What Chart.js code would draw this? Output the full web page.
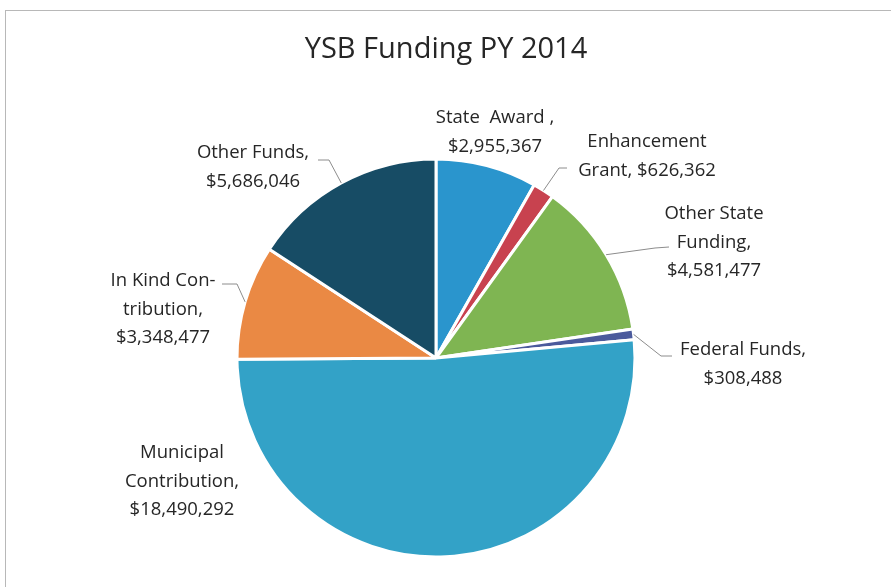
<!DOCTYPE html>
<html>
<head>
<meta charset="utf-8">
<title>YSB Funding PY 2014</title>
<script src="https://cdn.jsdelivr.net/npm/chart.js@4.4.1/dist/chart.umd.min.js"></script>
<style>
  html, body { margin: 0; padding: 0; background: #fff; }
  #wrap { position: relative; width: 891px; height: 587px; overflow: hidden; }
  #frame { position: absolute; left: 5px; top: 10px; right: -2px; bottom: -2px;
           border-left: 1px solid #b8b8b8; border-top: 1px solid #b8b8b8; }
  canvas { position: absolute; left: 0; top: 0; }
</style>
</head>
<body>
<div id="wrap">
  <div id="frame"></div>
  <canvas id="fundingChart" width="891" height="587"></canvas>
</div>
<script>
const categories = ["State Award", "Enhancement Grant", "Other State Funding", "Federal Funds",
                    "Municipal Contribution", "In Kind Contribution", "Other Funds"];
const amounts = [2955367, 626362, 4581477, 308488, 18490292, 3348477, 5686046];
const sliceColors = ["#2a95cd", "#c8424f", "#7fb552", "#4b5a9c", "#33a2c7", "#ea8944", "#174c65"];

// label text wrapped the way it is in the picture, the amount is added after
const labelLines = [
    ["State  Award ,"],
    ["Enhancement", "Grant,"],
    ["Other State", "Funding,"],
    ["Federal Funds,"],
    ["Municipal", "Contribution,"],
    ["In Kind Con-", "tribution,"],
    ["Other Funds,"]
];

// where each label sits, in px from the pie centre (for a 199px radius)
// leader = points the line goes through after leaving the slice edge
const labelLayout = [
    { x: 59,   y: -240, inline: false, leader: null },
    { x: 211,  y: -216, inline: true,  leader: [[123, -190], [131, -190]] },
    { x: 278,  y: -144, inline: false, leader: [[219, -110], [233, -111]] },
    { x: 307,  y: -8,   inline: false, leader: [[225, -2], [236, -2]] },
    { x: -254, y: 95,   inline: false, leader: null },
    { x: -273, y: -77,  inline: false, leader: [[-199, -74], [-214, -74]] },
    { x: -183, y: -205, inline: false, leader: [[-107, -198], [-118, -198]] }
];

const textColor = "#262626";
const fontFamily = "'Open Sans', 'Noto Sans', sans-serif";

const titlePlugin = {
    id: "pageTitle",
    afterDraw(chart){
        const ctx = chart.ctx;
        ctx.save();
        ctx.font = "29px " + fontFamily;
        ctx.fillStyle = textColor;
        ctx.textAlign = "center";
        ctx.textBaseline = "middle";
        ctx.fillText("YSB Funding PY 2014", 446, 50);
        ctx.restore();
    }
};

const pieLabels = {
    id: "pieLabels",
    afterDatasetsDraw(chart){
        const ctx = chart.ctx;
        const arcs = chart.getDatasetMeta(0).data;
        const values = chart.data.datasets[0].data;
        ctx.save();
        arcs.forEach((arc, i) => {
            const p = arc.getProps(["x", "y", "startAngle", "endAngle", "outerRadius"], true);
            const k = p.outerRadius / 199;
            const lay = labelLayout[i];

            if(lay.leader){
                const mid = (p.startAngle + p.endAngle) / 2;
                ctx.beginPath();
                ctx.moveTo(p.x + Math.cos(mid) * p.outerRadius, p.y + Math.sin(mid) * p.outerRadius);
                lay.leader.forEach(pt => ctx.lineTo(p.x + pt[0] * k, p.y + pt[1] * k));
                ctx.strokeStyle = "#8c8c8c";
                ctx.lineWidth = 1;
                ctx.stroke();
            }

            const value = "$" + values[i].toLocaleString("en-US");
            const lines = labelLines[i].slice();
            if(lay.inline) lines[lines.length - 1] += " " + value;
            else lines.push(value);

            ctx.font = "18.5px " + fontFamily;
            ctx.fillStyle = textColor;
            ctx.textAlign = "center";
            ctx.textBaseline = "middle";
            lines.forEach((t, j) => {
                ctx.fillText(t, p.x + lay.x * k, p.y + lay.y * k + j * 28.5);
            });
        });
        ctx.restore();
    }
};

const ctx = document.getElementById("fundingChart").getContext("2d");

const fundingChart = new Chart(ctx, {
    type: "pie",
    data: {
        labels: categories,
        datasets: [{
            data: amounts,
            backgroundColor: sliceColors,
            borderColor: "#ffffff",
            borderWidth: 3,
            hoverOffset: 0,
            hoverBorderWidth: 3
        }]
    },
    options: {
        responsive: false,
        animation: false,
        events: [],
        layout: {
            padding: { top: 157.5, bottom: 28.5, left: 200, right: 219 }
        },
        plugins: {
            legend: { display: false },
            title: { display: false },
            tooltip: { enabled: false }
        }
    },
    plugins: [pieLabels, titlePlugin]
});
</script>
</body>
</html>
